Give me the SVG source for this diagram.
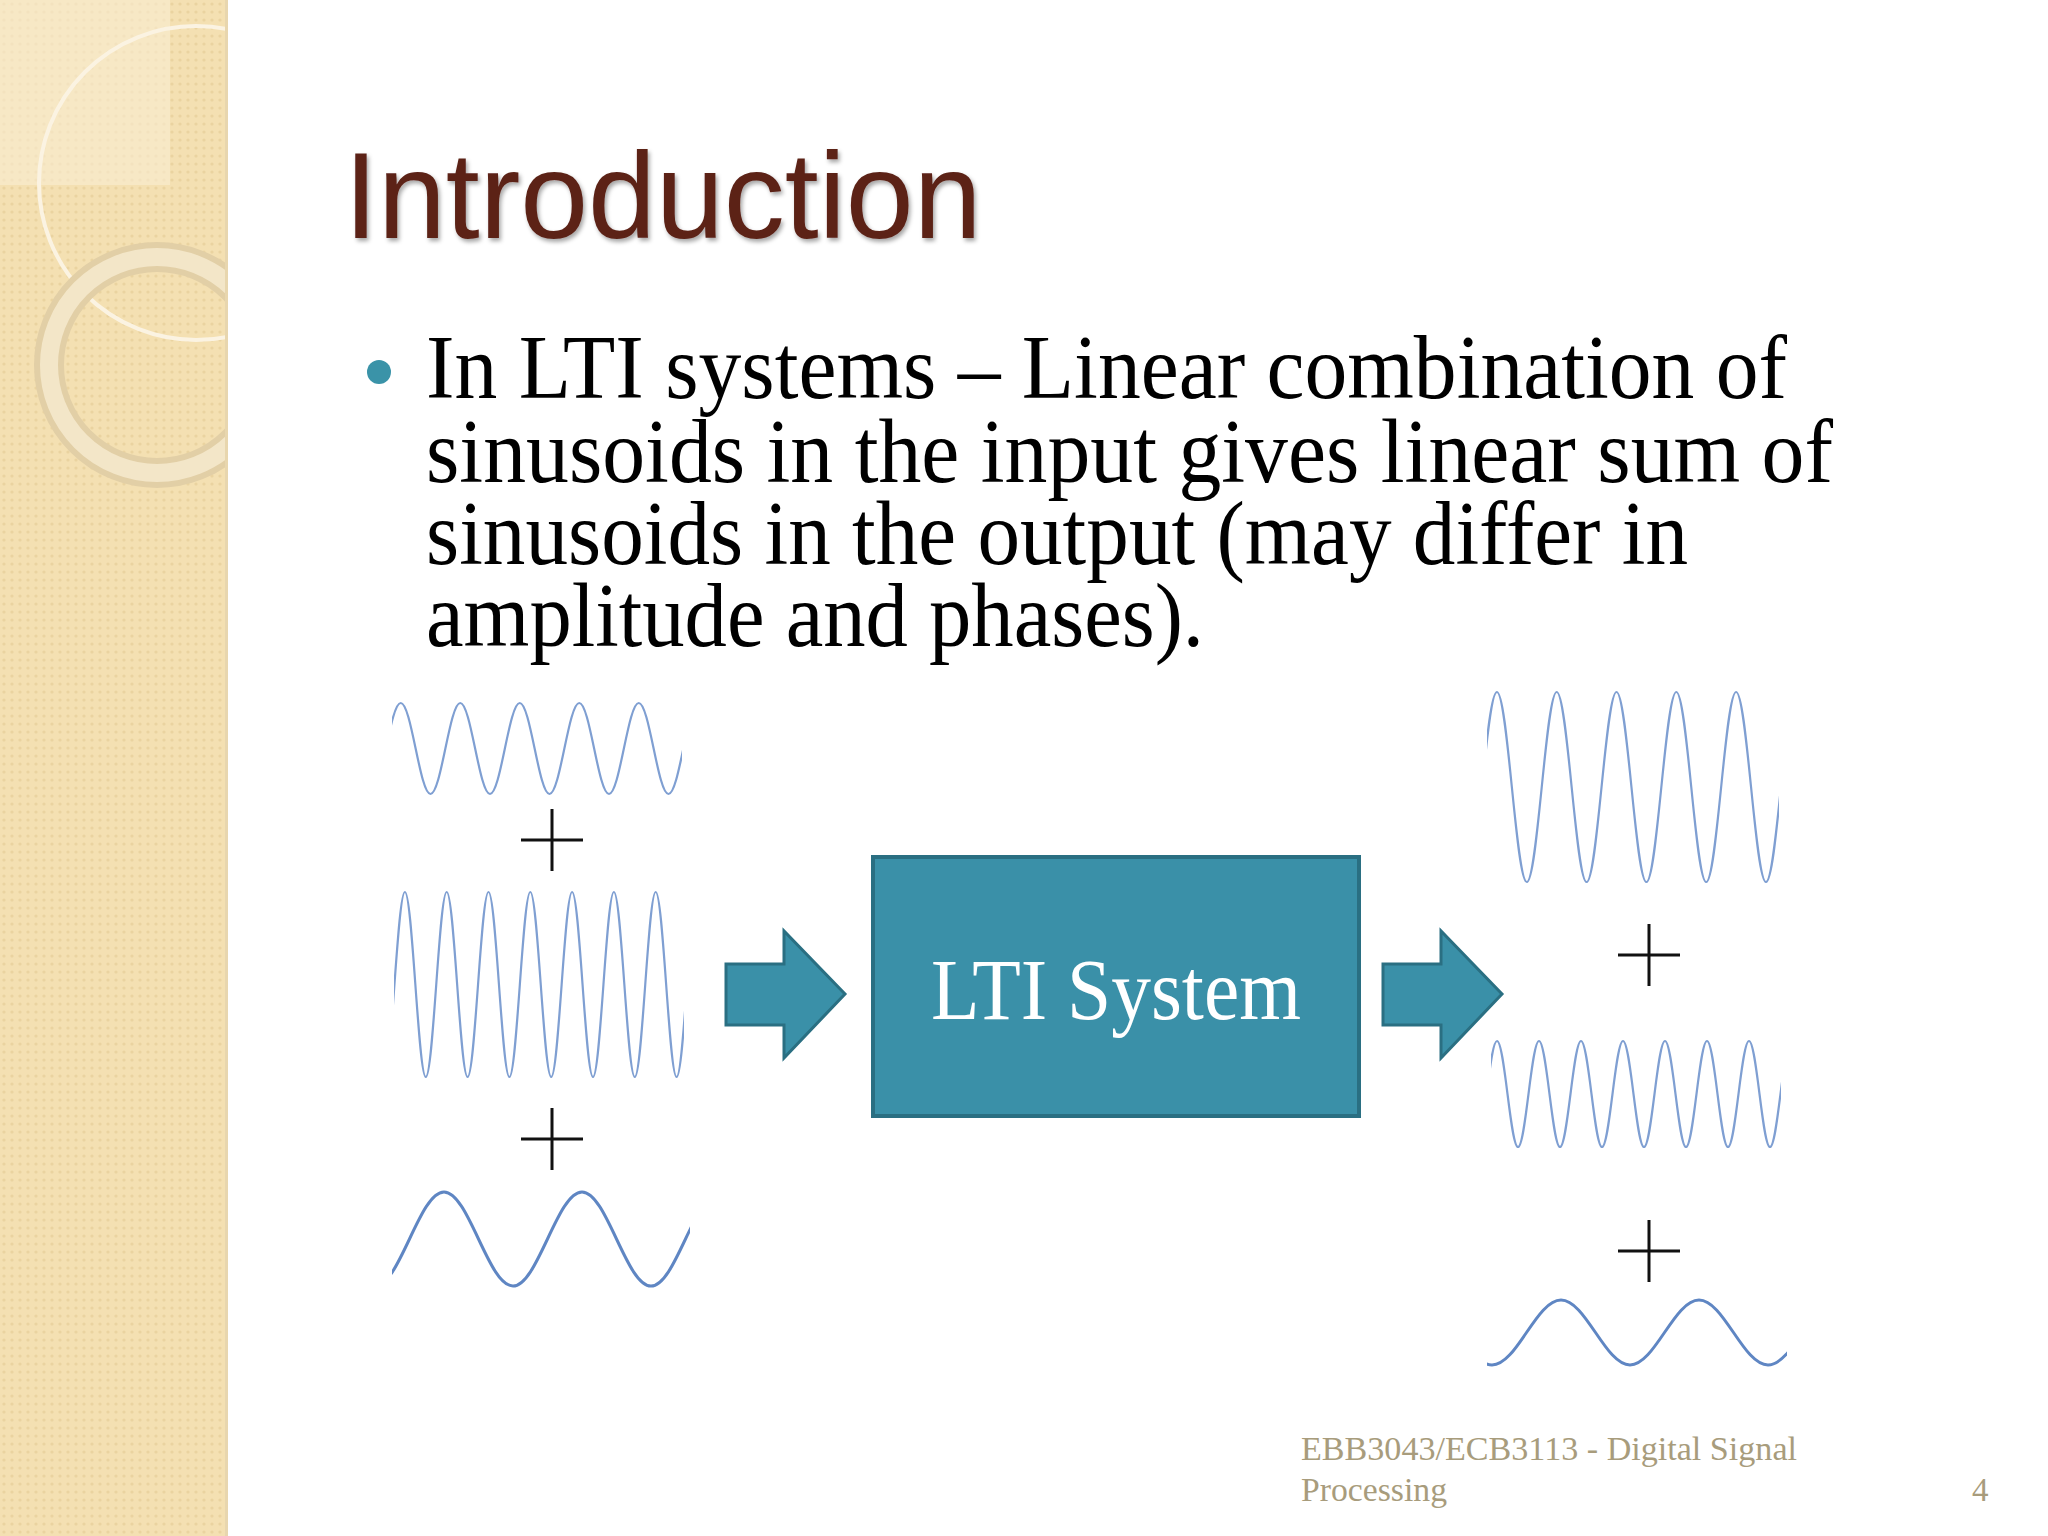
<svg xmlns="http://www.w3.org/2000/svg" width="2048" height="1536" viewBox="0 0 2048 1536">
<defs>
<style>
.w{fill:none;stroke:#7f9fd2;stroke-width:2.2}
.wt{fill:none;stroke:#5f86c3;stroke-width:3}
.p{stroke:#111;stroke-width:3;fill:none}
.b{font-family:"Liberation Serif",serif;font-size:90px;fill:#000}
.f{font-family:"Liberation Serif",serif;font-size:33px;fill:#a89c7c}
</style>
<pattern id="dots" width="8" height="8" patternUnits="userSpaceOnUse"><rect width="8" height="8" fill="#f4e0b2"/><circle cx="4" cy="4" r="1.6" fill="#ead3a0"/></pattern>
<clipPath id="band"><rect x="0" y="0" width="227" height="1536"/></clipPath>
<clipPath id="c1"><rect x="392" y="650" width="290" height="200"/></clipPath>
<clipPath id="c2"><rect x="394" y="850" width="290" height="260"/></clipPath>
<clipPath id="c3"><rect x="392" y="1150" width="298" height="170"/></clipPath>
<clipPath id="c4"><rect x="1487" y="650" width="292" height="260"/></clipPath>
<clipPath id="c5"><rect x="1491" y="1000" width="290" height="170"/></clipPath>
<clipPath id="c6"><rect x="1487" y="1260" width="300" height="140"/></clipPath>
<filter id="sh"><feDropShadow dx="2" dy="3" stdDeviation="2" flood-color="#000" flood-opacity="0.35"/></filter>
</defs>
<rect width="2048" height="1536" fill="#fff"/>
<g id="band-deco" clip-path="url(#band)">
<rect width="227" height="1536" fill="url(#dots)"/>
<rect width="170" height="185" fill="#f8ecd2" opacity="0.6"/>
<circle cx="196" cy="183" r="157" fill="none" stroke="#fbf3e2" stroke-width="4"/>
<circle cx="157" cy="365" r="108" fill="none" stroke="#e2cfa6" stroke-width="30"/>
<circle cx="157" cy="365" r="108" fill="none" stroke="#f3e6c8" stroke-width="18"/>
</g>
<rect x="225" y="0" width="3" height="1536" fill="#e8d6ae"/>
<text id="title" x="344" y="238" font-family="Liberation Sans,Arial,sans-serif" font-size="122" fill="#5b2319" filter="url(#sh)">Introduction</text>
<g id="bullet">
<circle cx="379" cy="372" r="12" fill="#3a93a8"/>
<text class="b" x="426" y="398" textLength="1361" lengthAdjust="spacingAndGlyphs">In LTI systems – Linear combination of</text>
<text class="b" x="426" y="482" textLength="1407" lengthAdjust="spacingAndGlyphs">sinusoids in the input gives linear sum of</text>
<text class="b" x="426" y="564" textLength="1262" lengthAdjust="spacingAndGlyphs">sinusoids in the output (may differ in</text>
<text class="b" x="426" y="646" textLength="778" lengthAdjust="spacingAndGlyphs">amplitude and phases).</text>
</g>
<g id="inputs">
<path class="w" clip-path="url(#c1)" d="M371,794 c10.7,0 19.04,-91 29.75,-91 s19.04,91 29.75,91 s19.04,-91 29.75,-91 s19.04,91 29.75,91 s19.04,-91 29.75,-91 s19.04,91 29.75,91 s19.04,-91 29.75,-91 s19.04,91 29.75,91 s19.04,-91 29.75,-91 s19.04,91 29.75,91 s19.04,-91 29.75,-91"/>
<path class="w" clip-path="url(#c2)" d="M384,1077 c7.5,0 13.4,-185 20.9,-185 s13.4,185 20.9,185 s13.4,-185 20.9,-185 s13.4,185 20.9,185 s13.4,-185 20.9,-185 s13.4,185 20.9,185 s13.4,-185 20.9,-185 s13.4,185 20.9,185 s13.4,-185 20.9,-185 s13.4,185 20.9,185 s13.4,-185 20.9,-185 s13.4,185 20.9,185 s13.4,-185 20.9,-185 s13.4,185 20.9,185 s13.4,-185 20.9,-185"/>
<path class="wt" clip-path="url(#c3)" d="M375,1286 c24.8,0 44.2,-94 69,-94 s44.2,94 69,94 s44.2,-94 69,-94 s44.2,94 69,94 s44.2,-94 69,-94"/>
<path class="p" d="M521,840 h62 M552,809 v62"/>
<path class="p" d="M521,1139 h62 M552,1108 v62"/>
</g>
<g id="connectors">
<path d="M726,964 h58 v-33 l61,63 l-61,64 v-33 h-58 z" fill="#3a90a8" stroke="#2a6f82" stroke-width="3"/>
<path d="M1383,964 h58 v-33 l61,63 l-61,64 v-33 h-58 z" fill="#3a90a8" stroke="#2a6f82" stroke-width="3"/>
</g>
<g id="lti">
<rect x="873" y="857" width="486" height="259" fill="#3a90a8" stroke="#2a6f82" stroke-width="4"/>
<text x="931" y="1019" textLength="370" lengthAdjust="spacingAndGlyphs" font-family="Liberation Serif,serif" font-size="86" fill="#fff">LTI System</text>
</g>
<g id="outputs">
<path class="w" clip-path="url(#c4)" d="M1467,882 c10.8,0 19.1,-190 29.9,-190 s19.1,190 29.9,190 s19.1,-190 29.9,-190 s19.1,190 29.9,190 s19.1,-190 29.9,-190 s19.1,190 29.9,190 s19.1,-190 29.9,-190 s19.1,190 29.9,190 s19.1,-190 29.9,-190 s19.1,190 29.9,190 s19.1,-190 29.9,-190"/>
<path class="w" clip-path="url(#c5)" d="M1476,1147 c7.6,0 13.4,-106 21,-106 s13.4,106 21,106 s13.4,-106 21,-106 s13.4,106 21,106 s13.4,-106 21,-106 s13.4,106 21,106 s13.4,-106 21,-106 s13.4,106 21,106 s13.4,-106 21,-106 s13.4,106 21,106 s13.4,-106 21,-106 s13.4,106 21,106 s13.4,-106 21,-106 s13.4,106 21,106 s13.4,-106 21,-106"/>
<path class="wt" clip-path="url(#c6)" d="M1423,1300 c24.8,0 44.2,65 69,65 s44.2,-65 69,-65 s44.2,65 69,65 s44.2,-65 69,-65 s44.2,65 69,65 s44.2,-65 69,-65"/>
<path class="p" d="M1618,955 h62 M1649,924 v62"/>
<path class="p" d="M1618,1251 h62 M1649,1220 v62"/>
</g>
<g id="footer">
<text class="f" x="1301" y="1460" textLength="496" lengthAdjust="spacingAndGlyphs">EBB3043/ECB3113 - Digital Signal</text>
<text class="f" x="1301" y="1501" textLength="146" lengthAdjust="spacingAndGlyphs">Processing</text>
<text class="f" x="1972" y="1501">4</text>
</g>
</svg>
